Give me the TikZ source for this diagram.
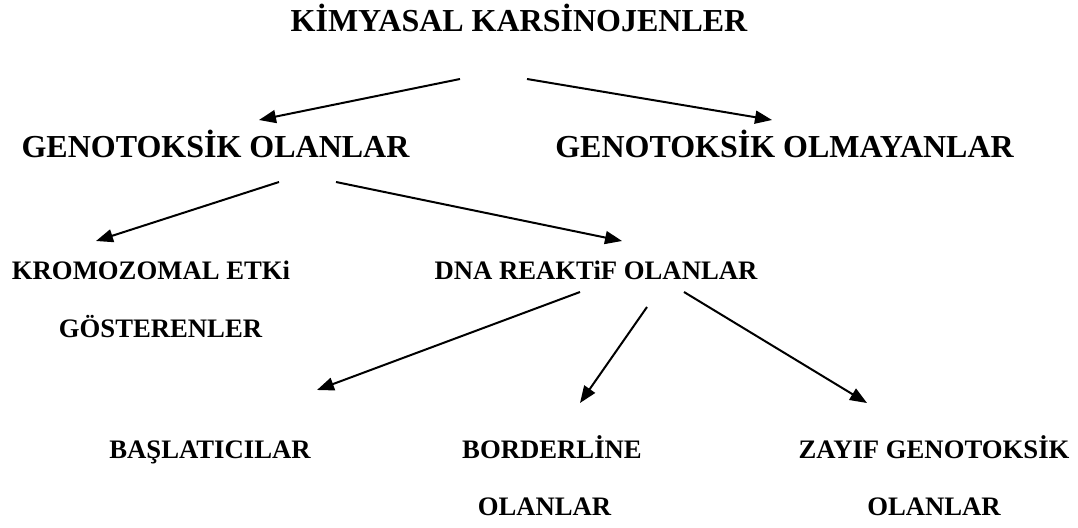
\documentclass[tikz,border=0pt]{standalone}
\usepackage{fontspec}
\setmainfont{Liberation Serif}
\usetikzlibrary{arrows.meta}
\tikzset{
  big/.style={anchor=base, inner sep=0pt, font=\bfseries\fontsize{32}{38}\selectfont},
  small/.style={anchor=base, inner sep=0pt, font=\bfseries\fontsize{26.7}{32}\selectfont},
  arr/.style={line width=2pt, -{Triangle[length=17pt,width=13pt]}}
}
\begin{document}
\begin{tikzpicture}[x=1pt,y=-1pt]
\useasboundingbox (0,0) rectangle (1078,527);
% texts
\node[big] (root) at (519,32) {KİMYASAL KARSİNOJENLER};
\node[big] (geno) at (215.5,157) {GENOTOKSİK OLANLAR};
\node[big] (nongeno) at (784.5,157) {GENOTOKSİK OLMAYANLAR};
\node[small] (kromo) at (151,279) {KROMOZOMAL ETKi};
\node[small] (kromo2) at (160.5,337) {GÖSTERENLER};
\node[small] (dna) at (596,279) {DNA REAKTiF OLANLAR};
\node[small] (bas) at (210,458) {BAŞLATICILAR};
\node[small] (bord) at (552,458) {BORDERLİNE};
\node[small] (bord2) at (544.5,515) {OLANLAR};
\node[small] (zay) at (934,458) {ZAYIF GENOTOKSİK};
\node[small] (zay2) at (934,515) {OLANLAR};
% connector ends
\coordinate (a1s) at (460,79);  \coordinate (a1e) at (259,120);
\coordinate (a2s) at (527,79);  \coordinate (a2e) at (772,120);
\coordinate (a3s) at (279,182); \coordinate (a3e) at (96,241);
\coordinate (a4s) at (336,182); \coordinate (a4e) at (622,241);
\coordinate (a5s) at (580,292); \coordinate (a5e) at (317,390);
\coordinate (a6s) at (647,307); \coordinate (a6e) at (580,403);
\coordinate (a7s) at (684,292); \coordinate (a7e) at (867,403);
\draw[arr] (a1s) -- (a1e);
\draw[arr] (a2s) -- (a2e);
\draw[arr] (a3s) -- (a3e);
\draw[arr] (a4s) -- (a4e);
\draw[arr] (a5s) -- (a5e);
\draw[arr] (a6s) -- (a6e);
\draw[arr] (a7s) -- (a7e);
\end{tikzpicture}
\end{document}
